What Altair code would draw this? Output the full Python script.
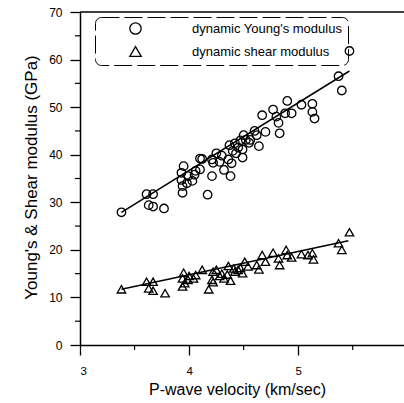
import altair as alt
import pandas as pd

# ---- data ----
young_vp = [3.38, 3.61, 3.67, 3.63, 3.67, 3.77, 3.95, 3.93, 3.93, 3.94, 3.94, 3.99, 4.03, 4.06,
            4.10, 4.10, 4.12, 4.17, 4.21, 4.22, 4.21, 4.25, 4.32, 4.38, 4.37, 4.42, 4.36, 4.39,
            4.43, 4.49, 4.50, 4.49, 4.52, 4.56, 4.62, 4.64, 4.67, 4.70, 4.77, 4.80, 4.82, 4.83,
            4.88, 4.90, 4.94, 5.03, 5.13, 5.13, 5.15, 5.37, 5.40, 5.47,
            4.28, 4.45, 4.40, 4.55, 4.30, 4.05, 3.98, 4.47, 4.60]
young_e = [27.9, 31.7, 31.7, 29.4, 29.1, 28.7, 37.6, 36.2, 34.7, 33.4, 32.0, 35.5, 34.5, 36.6,
           36.9, 39.2, 39.1, 31.6, 39.0, 38.3, 35.5, 40.3, 36.8, 35.5, 42.0, 42.4, 39.0, 38.2,
           40.3, 39.4, 44.1, 41.1, 43.1, 43.1, 44.1, 41.8, 48.3, 44.8, 49.5, 48.0, 46.7, 44.5,
           48.7, 51.3, 48.7, 50.5, 50.7, 49.0, 47.6, 56.5, 53.5, 61.8,
           38.5, 41.5, 40.8, 42.5, 39.8, 35.8, 34.0, 43.0, 45.0]

shear_vp = [3.38, 3.61, 3.67, 3.63, 3.67, 3.78, 3.95, 3.94, 3.94, 3.99, 4.04, 4.06, 4.12, 4.18,
            4.21, 4.22, 4.25, 4.32, 4.38, 4.36, 4.41, 4.42, 4.45, 4.49, 4.51, 4.54, 4.62, 4.64,
            4.67, 4.70, 4.77, 4.82, 4.83, 4.89, 4.90, 4.94, 5.03, 5.09, 5.13, 5.14, 5.37, 5.40,
            5.47, 3.96, 4.00, 4.30, 4.35, 4.47, 4.28, 4.22]
shear_g = [11.7, 13.3, 13.3, 11.9, 11.4, 10.9, 15.2, 14.0, 12.3, 13.7, 14.0, 14.7, 15.8, 11.7,
           13.7, 15.4, 15.8, 14.0, 13.5, 16.6, 16.1, 15.4, 15.8, 15.1, 17.5, 16.5, 16.8, 15.9,
           18.9, 17.5, 19.4, 18.2, 16.8, 20.0, 18.9, 18.4, 19.1, 18.9, 19.3, 18.0, 21.4, 20.0,
           23.7, 13.0, 14.5, 15.0, 14.8, 16.2, 14.5, 13.2]

# regression lines (end points)
young_fit_vp = [3.38, 5.47]
young_fit_e = [27.9, 57.6]
shear_fit_vp = [3.38, 5.46]
shear_fit_g = [11.7, 21.9]

series_names = ["dynamic Young's modulus", "dynamic shear modulus"]
x_major = [3, 4, 5]
x_minor = [3.5, 4.5, 5.5]
y_major = [0, 10, 20, 30, 40, 50, 60, 70]
y_minor = [5, 15, 25, 35, 45, 55, 65]

points = pd.concat([
    pd.DataFrame({"vp": young_vp, "val": young_e, "series": series_names[0]}),
    pd.DataFrame({"vp": shear_vp, "val": shear_g, "series": series_names[1]}),
])
fits = pd.concat([
    pd.DataFrame({"vp": young_fit_vp, "val": young_fit_e, "series": series_names[0]}),
    pd.DataFrame({"vp": shear_fit_vp, "val": shear_fit_g, "series": series_names[1]}),
])

W, H = 324, 333
FONT = "Liberation Sans"
xscale = alt.Scale(domain=[3, 5.97], nice=False, zero=False)
yscale = alt.Scale(domain=[0, 70], nice=False)

pts = alt.Chart(points).mark_point(filled=False, size=72, strokeWidth=1.3, color="black", opacity=1).encode(
    x=alt.X("vp:Q", scale=xscale,
            axis=alt.Axis(values=x_major, format="d", grid=False, tickSize=10, tickWidth=1.3,
                          tickColor="black", domainColor="black", domainWidth=1.5,
                          labelPadding=10, labelFontSize=11.5, labelColor="black", labelFont=FONT,
                          title="P-wave velocity (km/sec)", titleFontSize=16, titleFontWeight="normal",
                          titleFont=FONT, titleColor="black", titleX=157, titleY=49,
                          titleBaseline="alphabetic")),
    y=alt.Y("val:Q", scale=yscale,
            axis=alt.Axis(values=y_major, grid=False, tickSize=10, tickWidth=1.3,
                          tickColor="black", domainColor="black", domainWidth=1.5,
                          labelPadding=8, labelFontSize=12, labelColor="black", labelFont=FONT,
                          title="Young's & Shear modulus (GPa)", titleFontSize=17,
                          titleFontWeight="normal", titleFont=FONT, titleColor="black",
                          titleX=-44, titleY=165, titleBaseline="alphabetic")),
    shape=alt.Shape("series:N", scale=alt.Scale(domain=series_names, range=["circle", "triangle-up"]),
                    legend=alt.Legend(title=None, orient="none", legendX=15, legendY=5)),
)

lines = alt.Chart(fits).mark_line(color="black", strokeWidth=1.5).encode(
    x=alt.X("vp:Q", scale=xscale),
    y=alt.Y("val:Q", scale=yscale),
    detail="series:N",
)

ymin = alt.Chart(pd.DataFrame({"vp": [4.0] * len(y_minor), "val": y_minor})).mark_rule(
    color="black", strokeWidth=1.2).encode(
    y=alt.Y("val:Q", scale=yscale),
    x=alt.value(-5), x2=alt.value(0),
)
xmin = alt.Chart(pd.DataFrame({"vp": x_minor, "val": [0.0] * len(x_minor)})).mark_rule(
    color="black", strokeWidth=1.2).encode(
    x=alt.X("vp:Q", scale=xscale),
    y=alt.value(H), y2=alt.value(H + 5),
)
top = alt.Chart(pd.DataFrame({"vp": [4.0]})).mark_rule(color="black", strokeWidth=1.5).encode(
    x=alt.value(0), x2=alt.value(W), y=alt.value(0),
)

chart = alt.layer(pts, lines, ymin, xmin, top).properties(
    width=W, height=H,
    autosize=alt.AutoSizeParams(type="none"),
    padding={"left": 80, "top": 12, "right": 0, "bottom": 58},
    background="white",
).configure_view(stroke=None).configure_legend(
    strokeColor="black", strokeDash=[18, 5], cornerRadius=6, padding=5,
    symbolOffset=29, labelOffset=50, rowPadding=6,
    symbolSize=130, symbolStrokeWidth=1.3, symbolStrokeColor="black", symbolFillColor="transparent",
    labelFontSize=13, labelFont=FONT, labelColor="black", labelLimit=300,
)

chart.save("out.html", embed_options={"renderer": "svg", "actions": False})
